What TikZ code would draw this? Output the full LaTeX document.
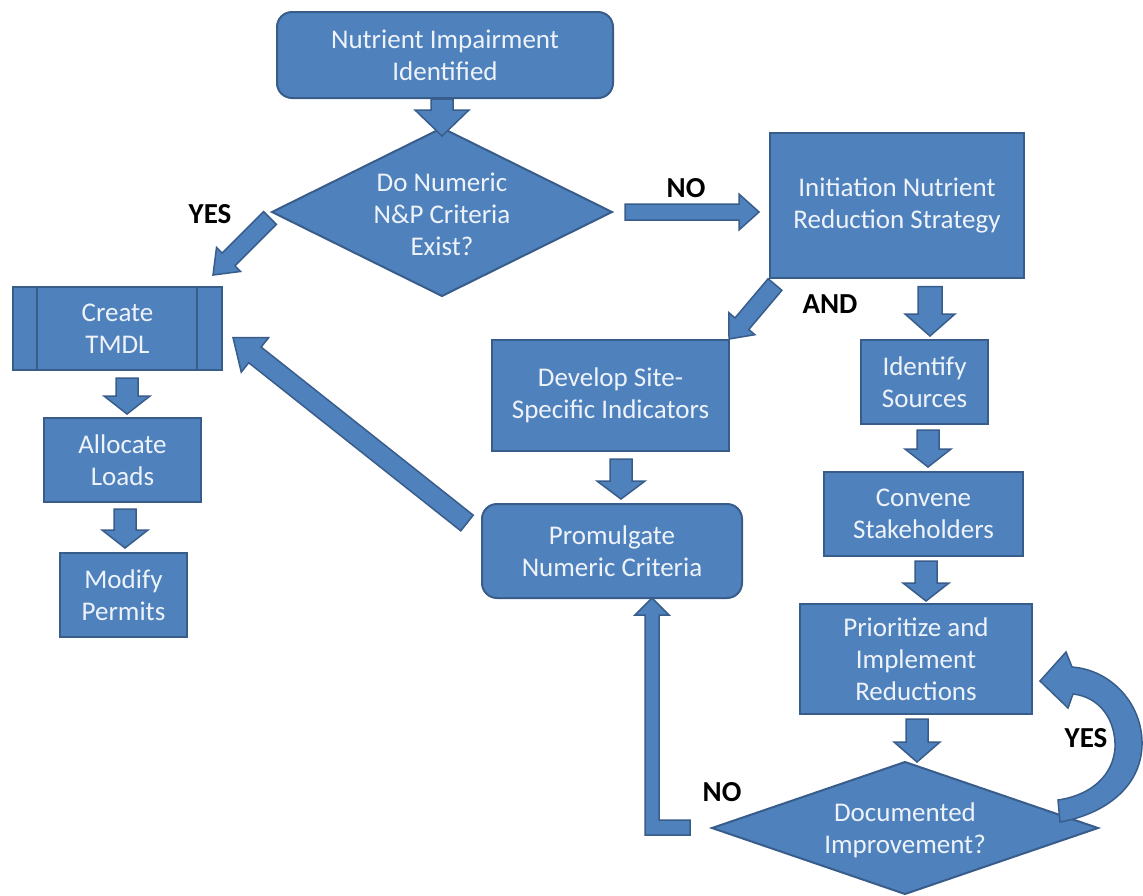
\documentclass[tikz,border=0pt]{standalone}
\usepackage{fontspec}
\setmainfont{Carlito}
\usetikzlibrary{calc}
\definecolor{fillblue}{HTML}{4F81BD}
\definecolor{edgeblue}{HTML}{385D8A}
\definecolor{boxtext}{HTML}{EEF3FA}
\tikzset{
  boxsty/.style={draw=edgeblue, line width=2pt, fill=fillblue, text=boxtext,
    align=center, inner sep=0pt, font=\fontsize{27}{32}\selectfont},
  roundsty/.style={boxsty, rounded corners=15pt},
  diasty/.style={draw=edgeblue, line width=2pt, fill=fillblue},
  txtsty/.style={text=boxtext, align=center, inner sep=0pt, font=\fontsize{27}{32}\selectfont},
  lblsty/.style={text=black, inner sep=0pt, font=\fontsize{29}{34}\selectfont\bfseries},
  arrowsty/.style={draw=edgeblue, line width=1.5pt, fill=fillblue, line join=miter},
}
% block arrow: #1 from, #2 to, #3 shaft half width, #4 head half width, #5 head length
\newcommand{\blkarrow}[5]{%
  \coordinate (bkh) at ($(#2)!#5!(#1)$);
  \draw[arrowsty] ($(#1)!#3!90:(#2)$) -- ($(bkh)!#3!90:(#2)$) -- ($(bkh)!#4!90:(#2)$)
    -- (#2) -- ($(bkh)!#4!-90:(#2)$) -- ($(bkh)!#3!-90:(#2)$) -- ($(#1)!#3!-90:(#2)$) -- cycle;}
\begin{document}
\begin{tikzpicture}[x=1pt,y=-1pt]
\useasboundingbox[fill=white] (0,0) rectangle (1143,895);

% boxes
\node[roundsty, minimum width=336pt, minimum height=86pt] (top) at (445,55) {Nutrient Impairment\\Identified};
\draw[diasty] (272,212) -- (442,128) -- (612,212) -- (442,296) -- cycle;
\node[txtsty] (d1) at (442,214) {Do Numeric\\N\&P Criteria\\Exist?};
\coordinate (d1n) at (442,128);
\node[boxsty, minimum width=254pt, minimum height=145pt] (init) at (897,205) {Initiation Nutrient\\Reduction Strategy};
\node[boxsty, minimum width=209pt, minimum height=83pt] (create) at (117.5,328.5) {Create\\TMDL};
\draw[draw=edgeblue, line width=2pt] ($(create.north west)+(25,0)$) -- ($(create.south west)+(25,0)$);
\draw[draw=edgeblue, line width=2pt] ($(create.north east)+(-26,0)$) -- ($(create.south east)+(-26,0)$);
\node[boxsty, minimum width=157pt, minimum height=84pt] (alloc) at (122.5,460) {Allocate\\Loads};
\node[boxsty, minimum width=127pt, minimum height=84pt] (modify) at (123.5,595) {Modify\\Permits};
\node[boxsty, minimum width=237pt, minimum height=111pt] (develop) at (610.5,395.5) {Develop Site-\\Specific Indicators};
\node[roundsty, minimum width=260pt, minimum height=94pt] (prom) at (612,551) {Promulgate\\Numeric Criteria};
\node[boxsty, minimum width=127pt, minimum height=84pt] (ident) at (924.5,382) {Identify\\Sources};
\node[boxsty, minimum width=199pt, minimum height=84pt] (conv) at (923.5,514) {Convene\\Stakeholders};
\node[boxsty, minimum width=232pt, minimum height=110pt] (prio) at (916,659) {Prioritize and\\Implement\\Reductions};
\draw[diasty] (712,828) -- (905,762) -- (1098,828) -- (905,894) -- cycle;
\node[txtsty] (d2) at (905,830) {Documented\\Improvement?};

% arrow end points
\coordinate (a1s) at ($(top.south)+(-3,0)$);
\coordinate (a1e) at ($(d1n)+(0,8)$);
\coordinate (a2s) at (625,212);
\coordinate (a2e) at ($(init.west |- a2s)+(-10,0)$);
\coordinate (a3s) at (270,218);
\coordinate (a3e) at ($(create.north east)+(-10,-11)$);
\coordinate (a4s) at ($(create.south)+(9.5,7)$);
\coordinate (a4e) at ($(alloc.north)+(4.5,-3)$);
\coordinate (a5s) at ($(alloc.south)+(2.5,6)$);
\coordinate (a5e) at ($(modify.north)+(1.5,-4)$);
\coordinate (a6s) at ($(develop.south)+(10.5,7)$);
\coordinate (a6e) at ($(prom.north)+(9,-4)$);
\coordinate (a7s) at ($(prom.north west)+(-14,20)$);
\coordinate (a7e) at ($(create.east)+(10,9)$);
\coordinate (a8s) at ($(init.south west)+(6,6)$);
\coordinate (a8e) at ($(develop.north east)+(-1,0)$);
\coordinate (a9s) at ($(init.south)+(33,8)$);
\coordinate (a9e) at ($(ident.north)+(5.5,-3)$);
\coordinate (a10s) at ($(ident.south)+(3.5,5)$);
\coordinate (a10e) at ($(conv.north)+(4.5,-4)$);
\coordinate (a11s) at ($(conv.south)+(2.5,4)$);
\coordinate (a11e) at ($(prio.north)+(10,-2)$);
\coordinate (a12s) at ($(prio.south)+(1,4)$);
\coordinate (a12e) at ($(prio.south)+(1,47)$);

% block arrows
\blkarrow{a1s}{a1e}{11pt}{27pt}{26pt}
\blkarrow{a2s}{a2e}{8pt}{18pt}{20pt}
\blkarrow{a3s}{a3e}{9pt}{17pt}{22pt}
\blkarrow{a4s}{a4e}{11pt}{23pt}{18pt}
\blkarrow{a5s}{a5e}{11pt}{23pt}{18pt}
\blkarrow{a6s}{a6e}{11pt}{24pt}{18pt}
\blkarrow{a7s}{a7e}{10pt}{22pt}{28pt}
\blkarrow{a8s}{a8e}{9pt}{17pt}{20pt}
\blkarrow{a9s}{a9e}{12pt}{25pt}{22pt}
\blkarrow{a10s}{a10e}{11pt}{23pt}{18pt}
\blkarrow{a11s}{a11e}{11pt}{23pt}{18pt}
\blkarrow{a12s}{a12e}{11pt}{23pt}{20pt}

% NO bent arrow from d2 to prom
\draw[arrowsty] (690,835) -- (645,835) -- (645,615) -- (635,615) -- (652,598)
  -- (669,615) -- (659,615) -- (659,820) -- (690,820) -- cycle;

% YES curved arrow from d2 back to prio
\draw[arrowsty] (1060,822) .. controls (1105,814) and (1141,787) .. (1142,745)
  .. controls (1143,705) and (1112,670) .. (1072,667)
  -- (1066,652) -- (1040,681) -- (1068,708) -- (1073,694)
  .. controls (1100,697) and (1116,720) .. (1115,748)
  .. controls (1113,775) and (1092,795) .. (1058,800) -- cycle;

% labels
\node[lblsty] (lyes1) at (210,214) {YES};
\node[lblsty] (lno1) at (686,188) {NO};
\node[lblsty] (land) at (830,304) {AND};
\node[lblsty] (lyes2) at (1086,738) {YES};
\node[lblsty] (lno2) at (722,792) {NO};
\end{tikzpicture}
\end{document}
